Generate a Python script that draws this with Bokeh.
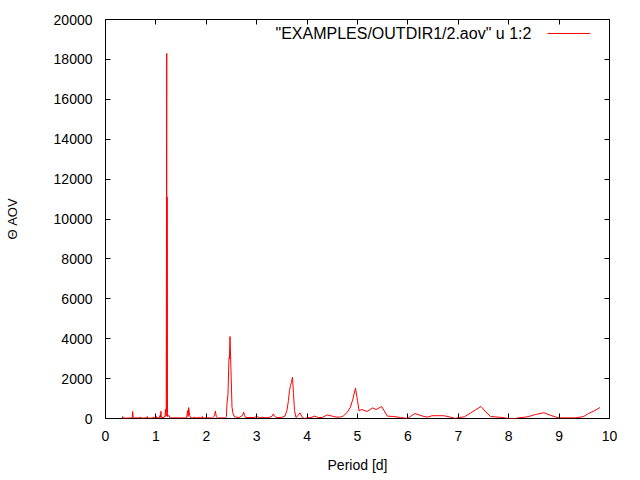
import math
from bokeh.plotting import figure
from bokeh.models import Range1d, LinearAxis, Label, Arrow, FixedTicker
from bokeh.embed import file_html
from bokeh.resources import INLINE

period = [0.33, 0.34, 0.35, 0.50, 0.53, 0.54, 0.55, 0.68, 0.69, 0.70, 0.82, 0.83, 0.84,
          0.94, 0.95, 0.96, 1.00, 1.01, 1.02, 1.07, 1.08, 1.09, 1.10, 1.11, 1.16, 1.17,
          1.18, 1.19, 1.205, 1.215, 1.218, 1.222, 1.23, 1.26, 1.28, 1.61, 1.63, 1.64,
          1.65, 1.67, 1.69, 1.76, 1.77, 1.78, 1.84, 1.85, 1.86, 1.91, 1.92, 1.93, 2.12,
          2.15, 2.17, 2.18, 2.20, 2.22, 2.38, 2.40, 2.41, 2.43, 2.45, 2.46, 2.47, 2.49,
          2.51, 2.53, 2.56, 2.65, 2.72, 2.74, 2.76, 2.78, 2.95, 3.00, 3.05, 3.12, 3.15,
          3.22, 3.30, 3.33, 3.36, 3.40, 3.50, 3.56, 3.60, 3.63, 3.65, 3.67, 3.69, 3.71,
          3.73, 3.75, 3.78, 3.82, 3.86, 3.90, 3.94, 4.00, 4.08, 4.15, 4.22, 4.30, 4.40,
          4.48, 4.58, 4.66, 4.72, 4.80, 4.86, 4.91, 4.96, 5.00, 5.03, 5.09, 5.19, 5.25,
          5.30, 5.37, 5.48, 5.59, 5.72, 5.85, 5.99, 6.05, 6.14, 6.22, 6.32, 6.39, 6.48,
          6.71, 6.83, 6.94, 7.01, 7.12, 7.24, 7.34, 7.45, 7.57, 7.64, 7.84, 8.00, 8.13,
          8.20, 8.30, 8.40, 8.53, 8.70, 8.80, 8.90, 9.00, 9.33, 9.49, 9.58, 9.69, 9.81]
theta_aov = [20, 100, 20, 20, 40, 350, 30, 30, 80, 20, 30, 100, 20,
             20, 80, 20, 30, 100, 30, 40, 150, 60, 370, 50, 50, 120,
             80, 470, 120, 18300, 300, 11100, 100, 150, 30, 30, 400, 100,
             550, 150, 30, 30, 80, 30, 30, 80, 30, 30, 100, 30, 30,
             100, 230, 370, 80, 30, 30, 100, 750, 1200, 3040, 3000, 4110, 2400,
             570, 250, 80, 50, 150, 320, 150, 50, 50, 100, 50, 60, 40,
             40, 100, 230, 100, 40, 60, 120, 400, 900, 1400, 1650, 1820, 2070,
             1250, 400, 50, 150, 280, 80, 0, 30, 50, 120, 50, 50, 180,
             130, 70, 70, 130, 320, 570, 990, 1520, 900, 400, 450, 350, 450,
             530, 450, 600, 120, 100, 50, 0, 100, 250, 180, 100, 70, 140,
             140, 80, 0, 50, 80, 270, 430, 600, 270, 100, 60, 0, 0,
             30, 60, 100, 200, 290, 190, 100, 30, 30, 100, 250, 370, 550]

x_ticks = [0, 1, 2, 3, 4, 5, 6, 7, 8, 9, 10]
y_ticks = [0, 2000, 4000, 6000, 8000, 10000, 12000, 14000, 16000, 18000, 20000]
legend_text = '"EXAMPLES/OUTDIR1/2.aov" u 1:2'
x_label = "Period [d]"
y_label = "Θ AOV"

FONT = "Liberation Sans"

p = figure(width=632, height=475, output_backend="svg", toolbar_location=None,
           x_range=Range1d(0, 10), y_range=Range1d(0, 20000),
           min_border_left=105, min_border_right=23, min_border_top=19, min_border_bottom=54)
p.grid.visible = False
p.outline_line_color = "black"
p.outline_line_width = 1
p.background_fill_color = "white"
p.border_fill_color = "white"

p.line(period, theta_aov, line_color="#ff0000", line_width=1)

def style_axis(ax):
    ax.axis_line_color = None
    ax.major_tick_in = 5
    ax.major_tick_out = 0
    ax.minor_tick_in = 0
    ax.minor_tick_out = 0
    ax.major_tick_line_color = "black"
    ax.major_label_text_font = FONT
    ax.major_label_text_font_size = "14px"
    ax.major_label_text_color = "black"
    ax.axis_label_text_font = FONT
    ax.axis_label_text_font_style = "normal"
    ax.axis_label_text_color = "black"

xa = p.xaxis[0]
xa.ticker = FixedTicker(ticks=x_ticks)
ya = p.yaxis[0]
ya.ticker = FixedTicker(ticks=y_ticks)
style_axis(xa)
style_axis(ya)
xa.major_label_standoff = 12
ya.major_label_standoff = 13
xa.axis_label = x_label
xa.axis_label_text_font_size = "14px"
xa.axis_label_standoff = 13
ya.axis_label = y_label
ya.axis_label_text_font_size = "13px"
ya.axis_label_standoff = 31

xt = LinearAxis(ticker=FixedTicker(ticks=x_ticks),
                major_label_overrides={t: "" for t in x_ticks})
yr = LinearAxis(ticker=FixedTicker(ticks=y_ticks),
                major_label_overrides={t: "" for t in y_ticks})
style_axis(xt)
style_axis(yr)
xt.major_label_standoff = 0
yr.major_label_standoff = 0
p.add_layout(xt, "above")
p.add_layout(yr, "right")

# key
p.add_layout(Label(x=8.45, y=19300, text=legend_text, text_font=FONT, text_font_size="16px",
                   text_align="right", text_baseline="middle", text_color="black"))
p.add_layout(Arrow(x_start=8.77, y_start=19300, x_end=9.62, y_end=19300, end=None,
                   line_color="#ff0000", line_width=1))

open("out.html", "w").write(file_html(p, INLINE))
